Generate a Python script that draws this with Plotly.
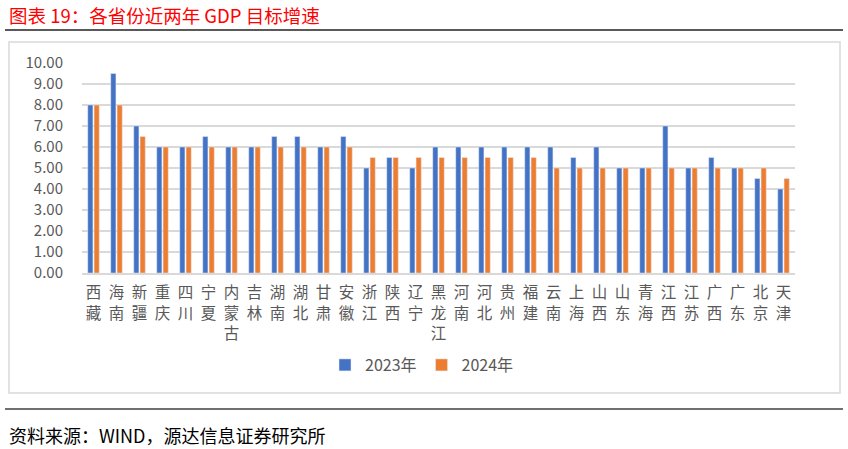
import plotly.graph_objects as go

provinces = ["西藏", "海南", "新疆", "重庆", "四川", "宁夏", "内蒙古", "吉林", "湖南", "湖北",
             "甘肃", "安徽", "浙江", "陕西", "辽宁", "黑龙江", "河南", "河北", "贵州", "福建",
             "云南", "上海", "山西", "山东", "青海", "江西", "江苏", "广西", "广东", "北京", "天津"]
gdp_2023 = [8, 9.5, 7, 6, 6, 6.5, 6, 6, 6.5, 6.5,
            6, 6.5, 5, 5.5, 5, 6, 6, 6, 6, 6,
            6, 5.5, 6, 5, 5, 7, 5, 5.5, 5, 4.5, 4]
gdp_2024 = [8, 8, 6.5, 6, 6, 6, 6, 6, 6, 6,
            6, 6, 5.5, 5.5, 5.5, 5.5, 5.5, 5.5, 5.5, 5.5,
            5, 5, 5, 5, 5, 5, 5, 5, 5, 5, 4.5]

# vertical labels: one character per line
tick_text = ["<br>".join(list(p)) for p in provinces]

W, H = 848, 449
font = "Noto Sans CJK SC"


def px(x):
    return x / W


def py(y):
    return 1 - y / H


fig = go.Figure()
fig.add_trace(go.Bar(x=provinces, y=gdp_2023, name="2023年", marker_color="#4472C4"))
fig.add_trace(go.Bar(x=provinces, y=gdp_2024, name="2024年", marker_color="#ED7D31"))

fig.update_layout(
    width=W, height=H,
    margin=dict(l=0, r=0, t=0, b=0, pad=0, autoexpand=False),
    paper_bgcolor="white", plot_bgcolor="white",
    font=dict(family=font, color="#595959"),
    barmode="group", bargap=0.45, bargroupgap=0.18,
    showlegend=True,
    legend=dict(orientation="h", x=px(422), xanchor="center", y=py(365), yanchor="middle",
                font=dict(size=16, color="#595959"), itemwidth=30),
    xaxis=dict(domain=[px(82), px(795)], tickmode="array", tickvals=provinces, ticktext=tick_text,
               tickfont=dict(size=15.5, color="#595959"), showline=True, linecolor="#D9D9D9",
               linewidth=1.5, ticks="", tickangle=0, automargin=False, ticklabelstandoff=5),
    yaxis=dict(domain=[py(273), py(63)], range=[0, 10], dtick=1, tickformat=".2f",
               tickfont=dict(size=15, color="#595959"), gridcolor="#D9D9D9", gridwidth=1.5,
               zeroline=False, ticks="", ticklen=0, automargin=False, ticklabelstandoff=18),
    shapes=[
        dict(type="line", xref="paper", yref="paper", x0=px(5), x1=px(843),
             y0=py(30), y1=py(30), line=dict(color="#595959", width=2)),
        dict(type="rect", xref="paper", yref="paper", x0=px(9), x1=px(840),
             y0=py(393), y1=py(42), line=dict(color="#D9D9D9", width=1.5)),
        dict(type="line", xref="paper", yref="paper", x0=px(5), x1=px(843),
             y0=py(409), y1=py(409), line=dict(color="#404040", width=1.5)),
    ],
    annotations=[
        dict(text="图表 19：各省份近两年 GDP 目标增速", xref="paper", yref="paper",
             x=px(7), y=py(15), xanchor="left", yanchor="middle", showarrow=False,
             font=dict(size=18.5, color="#FF0000", family=font)),
        dict(text="资料来源：WIND，源达信息证券研究所", xref="paper", yref="paper",
             x=px(7), y=py(435), xanchor="left", yanchor="middle", showarrow=False,
             font=dict(size=18, color="#000000", family=font)),
    ],
)

# drop the default 8px body margin so the figure fills the window exactly
fig.write_html("out.html", config={"displayModeBar": False},
               post_script="document.body.style.margin = '0';")
